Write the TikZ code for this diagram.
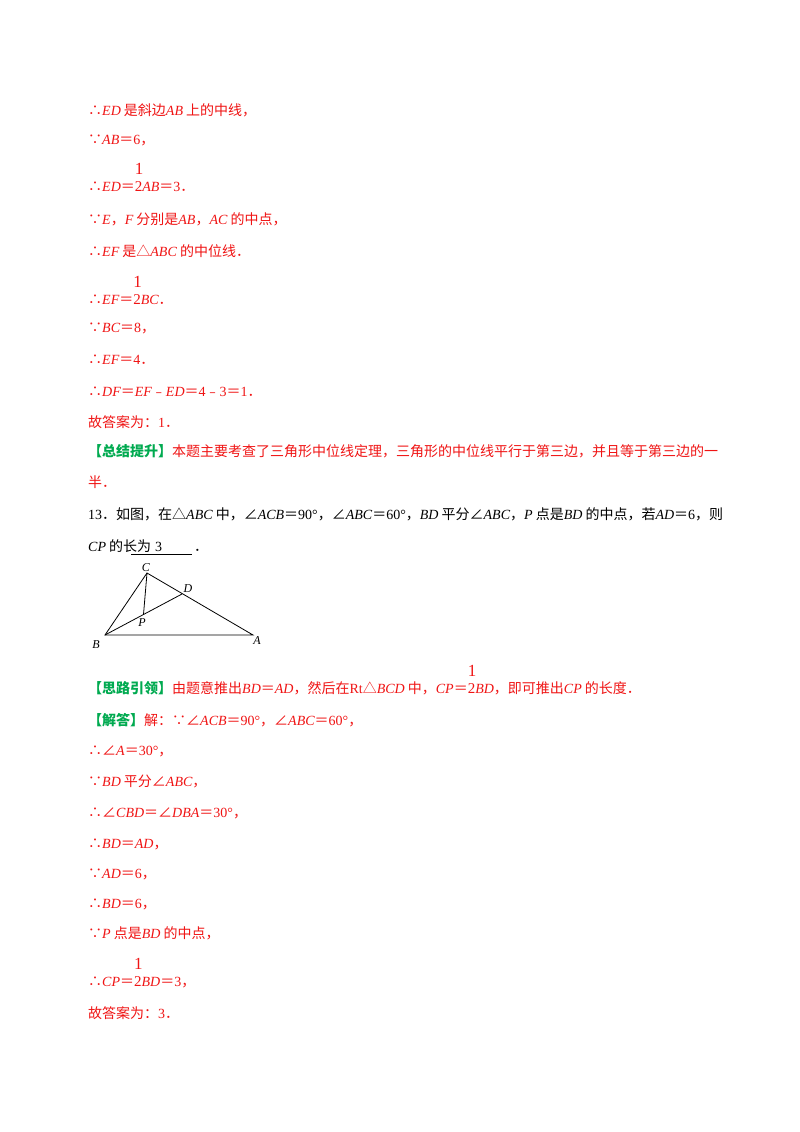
\documentclass[tikz,border=0pt]{standalone}
\usepackage{fontspec}
\setmainfont{Noto Sans CJK SC}
\newfontfamily\lat{Liberation Serif}
\newcommand{\m}[1]{{\lat\itshape #1}}
\newcommand{\n}[1]{{\lat #1}}
\newcommand{\hf}{\rlap{\raisebox{1.15em}{\n{\fontsize{17}{17}\selectfont 1}}}\n{\fontsize{15}{15}\selectfont 2}}
\newcommand{\gtag}[1]{{\color{tagg}\bfseries #1}}
\definecolor{ansred}{RGB}{240,20,20}
\definecolor{tagg}{RGB}{0,170,80}
\tikzset{
 ln/.style={anchor=base west,inner sep=0,font=\fontsize{14}{17}\selectfont,text=ansred},
 blk/.style={ln,text=black}
}
\begin{document}
\begin{tikzpicture}[x=1pt,y=-1pt]
\useasboundingbox (0,0) rectangle (800,1132);
\fill[white] (0,0) rectangle (800,1132);
\node[ln] (l1) at (88,115) {∴\m{ED} 是斜边\m{AB} 上的中线，};
\node[ln] (l2) at (88,144) {∵\m{AB}＝\n{6}，};
\node[ln] (l3) at (88,191) {∴\m{ED}＝\hf\m{AB}＝\n{3}．};
\node[ln] (l4) at (88,224) {∵\m{E}，\m{F} 分别是\m{AB}，\m{AC} 的中点，};
\node[ln] (l5) at (88,256) {∴\m{EF} 是△\m{ABC} 的中位线．};
\node[ln] (l6) at (88,304) {∴\m{EF}＝\hf\m{BC}．};
\node[ln] (l7) at (88,332) {∵\m{BC}＝\n{8}，};
\node[ln] (l8) at (88,364) {∴\m{EF}＝\n{4}．};
\node[ln] (l9) at (88,396) {∴\m{DF}＝\m{EF}﹣\m{ED}＝\n{4}﹣\n{3}＝\n{1}．};
\node[ln] (l10) at (88,427) {故答案为：\n{1}．};
\node[ln] (l11) at (88,456) {\gtag{【总结提升】}本题主要考查了三角形中位线定理，三角形的中位线平行于第三边，并且等于第三边的一};
\node[ln] (l12) at (88,487) {半．};
\node[blk] (q1) at (88,519) {\n{13}．如图，在△\m{ABC} 中，∠\m{ACB}＝\n{90°}，∠\m{ABC}＝\n{60°}，\m{BD} 平分∠\m{ABC}，\m{P} 点是\m{BD} 的中点，若\m{AD}＝\n{6}，则};
\node[blk] (q2) at (88,551) {\m{CP} 的长为};
\node[blk] (ans) at (155,551) {\n{3}};
\node[blk] (dot) at (194,551) {．};
\draw[black,line width=0.7pt] (131,554) -- (192,554);
\coordinate (B) at (105,635);
\coordinate (A) at (253,635);
\coordinate (C) at (147,573);
\coordinate (D) at (182,594);
\coordinate (P) at (143.5,614.5);
\draw[line width=0.8pt] (B) -- (A) -- (C) -- cycle;
\draw[line width=0.8pt] (B) -- (D);
\draw[line width=0.8pt] (C) -- (P);
\begin{scope}[font=\lat\itshape\fontsize{12}{12}\selectfont]
\node (lB) at (96,645) {B};
\node (lA) at (257,641) {A};
\node (lC) at (146,568) {C};
\node (lD) at (188,589) {D};
\node (lP) at (142,623) {P};
\end{scope}
\node[ln] (s1) at (88,693) {\gtag{【思路引领】}由题意推出\m{BD}＝\m{AD}，然后在\n{Rt}△\m{BCD} 中，\m{CP}＝\hf\m{BD}，即可推出\m{CP} 的长度．};
\node[ln] (s2) at (88,725) {\gtag{【解答】}解：∵∠\m{ACB}＝\n{90°}，∠\m{ABC}＝\n{60°}，};
\node[ln] (s3) at (88,755) {∴∠\m{A}＝\n{30°}，};
\node[ln] (s4) at (88,786) {∵\m{BD} 平分∠\m{ABC}，};
\node[ln] (s5) at (88,817) {∴∠\m{CBD}＝∠\m{DBA}＝\n{30°}，};
\node[ln] (s6) at (88,848) {∴\m{BD}＝\m{AD}，};
\node[ln] (s7) at (88,878) {∵\m{AD}＝\n{6}，};
\node[ln] (s8) at (88,908) {∴\m{BD}＝\n{6}，};
\node[ln] (s9) at (88,938) {∵\m{P} 点是\m{BD} 的中点，};
\node[ln] (s10) at (88,986) {∴\m{CP}＝\hf\m{BD}＝\n{3}，};
\node[ln] (s11) at (88,1018) {故答案为：\n{3}．};
\end{tikzpicture}
\end{document}
